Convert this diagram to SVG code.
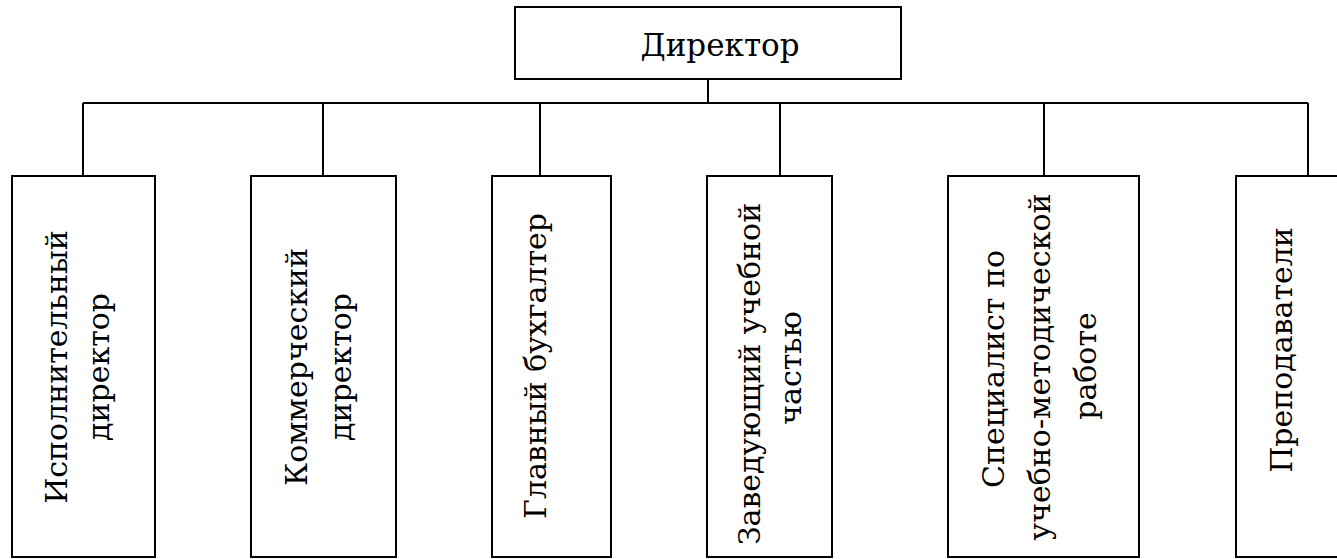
<svg xmlns="http://www.w3.org/2000/svg" width="1337" height="559" viewBox="0 0 1337 559">
<style>
.box{fill:#fff;stroke:#000;stroke-width:2}
.ln{fill:none;stroke:#000;stroke-width:2}
.t{font-family:'DejaVu Serif',serif;font-size:30px;fill:#000;text-anchor:middle}
</style>
<rect width="1337" height="559" fill="#fff"/>
<g id="connectors">
<path class="ln" d="M708 79V103M83 103H1308M83 103V176M323 103V176M540 103V176M780 103V176M1044 103V176M1308 103V176"/>
</g>
<g id="n0">
<rect class="box" x="515" y="7" width="386" height="72"/>
<text class="t" x="720" y="56" style="font-size:31px">Директор</text>
</g>
<g id="n1">
<rect class="box" x="12" y="176" width="143" height="381"/>
<text class="t" transform="translate(67,367) rotate(-90)">Исполнительный</text>
<text class="t" transform="translate(109,367) rotate(-90)">директор</text>
</g>
<g id="n2">
<rect class="box" x="251" y="176" width="145" height="381"/>
<text class="t" transform="translate(307,367) rotate(-90)">Коммерческий</text>
<text class="t" transform="translate(351,367) rotate(-90)">директор</text>
</g>
<g id="n3">
<rect class="box" x="492" y="176" width="119" height="381"/>
<text class="t" transform="translate(546,366) rotate(-90)">Главный бухгалтер</text>
</g>
<g id="n4">
<rect class="box" x="707" y="176" width="125" height="381"/>
<text class="t" transform="translate(760,374) rotate(-90)">Заведующий учебной</text>
<text class="t" transform="translate(801,368) rotate(-90)">частью</text>
</g>
<g id="n5">
<rect class="box" x="948" y="176" width="191" height="381"/>
<text class="t" transform="translate(1004,369) rotate(-90)">Специалист по</text>
<text class="t" transform="translate(1050,367) rotate(-90)">учебно-методической</text>
<text class="t" transform="translate(1096,366) rotate(-90)">работе</text>
</g>
<g id="n6">
<rect class="box" x="1236" y="176" width="150" height="381"/>
<text class="t" transform="translate(1292,350) rotate(-90)">Преподаватели</text>
</g>
</svg>
